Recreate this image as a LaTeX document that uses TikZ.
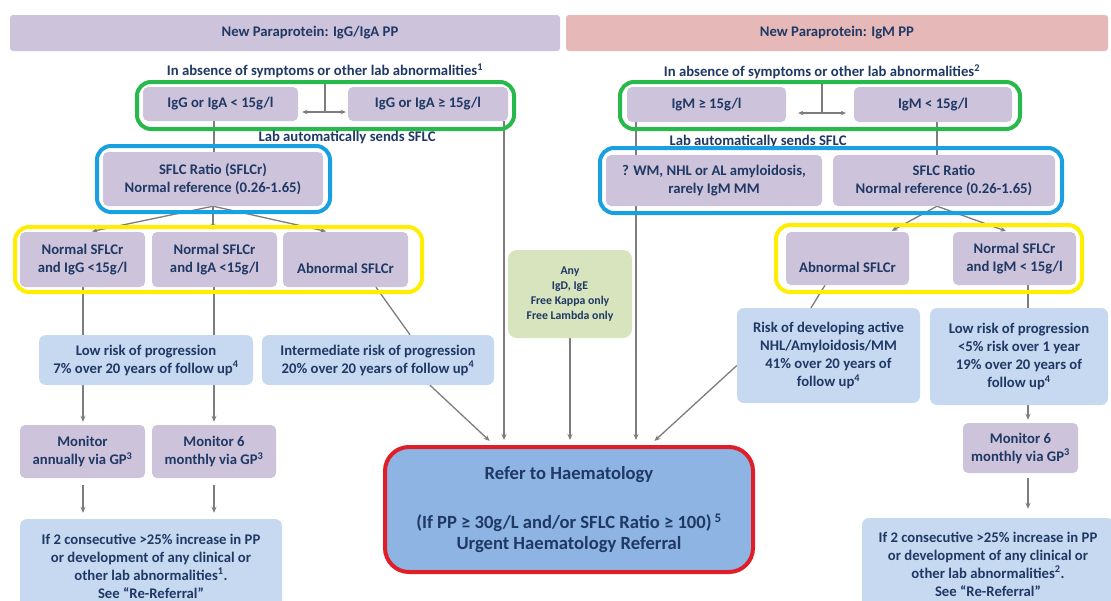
\documentclass[tikz,border=0pt]{standalone}
\usepackage{fontspec}
\setmainfont{Carlito}
\usetikzlibrary{arrows.meta,backgrounds}
\definecolor{txtc}{RGB}{31,56,100}
\definecolor{purp}{RGB}{205,195,219}
\definecolor{pinkh}{RGB}{230,185,184}
\definecolor{lblue}{RGB}{198,217,240}
\definecolor{mblue}{RGB}{141,180,226}
\definecolor{lgreen}{RGB}{215,228,189}
\definecolor{fgreen}{RGB}{40,185,75}
\definecolor{fblue}{RGB}{25,160,225}
\definecolor{fyellow}{RGB}{255,238,0}
\definecolor{fred}{RGB}{225,30,40}
\definecolor{conn}{RGB}{125,125,125}
\begin{document}
\begin{tikzpicture}[x=1pt,y=-1pt,
  txt/.style={font=\bfseries\fontsize{14.7}{18}\selectfont, text=txtc, align=center},
  sz/.style 2 args={minimum width=#1pt, minimum height=#2pt},
  hdr/.style={txt, rounded corners=3pt, inner sep=0pt},
  pbox/.style={txt, fill=purp, rounded corners=5pt, inner sep=0pt},
  bbox/.style={txt, fill=lblue, rounded corners=7pt, inner sep=0pt},
  frame/.style={draw=#1, line width=4pt, rounded corners=14pt, inner sep=0pt},
  ln/.style={draw=conn, line width=1.3pt},
  arr/.style={ln, -{Stealth[length=6pt,width=5pt]}},
  dbl/.style={ln, {Stealth[length=5pt,width=4.5pt]}-{Stealth[length=5pt,width=4.5pt]}}
]
\useasboundingbox (0,0) rectangle (1111,600);
\clip (0,0) rectangle (1111,600);

% headers
\node[hdr, fill=purp, sz={550}{36}] (hL) at (285,33) {\hspace*{50pt}New Paraprotein: IgG/IgA PP};
\node[hdr, fill=pinkh, sz={542}{36}] (hR) at (837,33) {New Paraprotein: IgM PP};
\node[txt] (absL) at (325,71) {In absence of symptoms or other lab abnormalities\textsuperscript{1}};
\node[txt] (absR) at (822,72) {In absence of symptoms or other lab abnormalities\textsuperscript{2}};

% green level
\node[frame=fgreen, sz={377}{47}] (gfL) at (325.5,105.5) {};
\node[pbox, sz={155}{34}] (igL1) at (220.5,104) {IgG or IgA < 15g/l};
\node[pbox, sz={160}{34}] (igL2) at (428,104) {IgG or IgA ≥ 15g/l};
\node[frame=fgreen, sz={400}{47}] (gfR) at (820,105.5) {};
\node[pbox, sz={159}{35}] (igM1) at (706.5,104.5) {IgM ≥ 15g/l};
\node[pbox, sz={158}{35}] (igM2) at (933,104.5) {IgM < 15g/l};
\coordinate (tL) at (325,112);
\coordinate (tR) at (822,113);
\node[txt] (labL) at (347,137) {Lab automatically sends SFLC};
\node[txt] (labR) at (758,141) {Lab automatically sends SFLC};

% blue level
\node[frame=fblue, sz={233}{66}] (bfL) at (213.5,179) {};
\node[pbox, sz={220}{54}] (sflcL) at (213,179) {SFLC Ratio (SFLCr)\\Normal reference (0.26-1.65)};
\node[frame=fblue, sz={462}{65}] (bfR) at (831,180.5) {};
\node[pbox, sz={216}{51}] (wm) at (714,180.5) {? WM, NHL or AL amyloidosis,\\rarely IgM MM};
\node[pbox, sz={222}{51}] (sflcR) at (944,180.5) {SFLC Ratio\\Normal reference (0.26-1.65)};

% yellow level
\node[frame=fyellow, sz={407}{65}] (yfL) at (218.5,259.5) {};
\node[pbox, sz={125}{55}] (n1) at (82.5,259.5) {Normal SFLCr\\and IgG <15g/l};
\node[pbox, sz={125}{55}] (n2) at (214.5,259.5) {Normal SFLCr\\and IgA <15g/l};
\node[pbox, sz={125}{55}] (ab1) at (345.5,259.5) {\vphantom{A}\\Abnormal SFLCr};
\node[frame=fyellow, sz={306}{67}] (yfR) at (929,258.5) {};
\node[pbox, sz={123}{53}] (ab2) at (847.5,258.5) {\vphantom{A}\\Abnormal SFLCr};
\node[pbox, sz={123}{53}] (n3) at (1014.5,258.5) {Normal SFLCr\\and IgM < 15g/l};

% other
\node[txt, font=\bfseries\fontsize{11.8}{15}\selectfont, fill=lgreen, rounded corners=9pt, inner sep=0pt, sz={124}{88}] (any) at (570,294) {Any\\IgD, IgE\\Free Kappa only\\Free Lambda only};
\node[bbox, sz={214}{50}] (lowL) at (146,360) {Low risk of progression\\7\% over 20 years of follow up\textsuperscript{4}};
\node[bbox, sz={232}{50}] (inter) at (378,360) {Intermediate risk of progression\\20\% over 20 years of follow up\textsuperscript{4}};
\node[bbox, sz={183}{95}] (riskR) at (828.5,355.5) {Risk of developing active\\NHL/Amyloidosis/MM\\41\% over 20 years of\\follow up\textsuperscript{4}};
\node[bbox, sz={178}{97}] (lowR) at (1019,356.5) {Low risk of progression\\<5\% risk over 1 year\\19\% over 20 years of\\follow up\textsuperscript{4}};
\node[pbox, sz={125}{53}] (monA) at (82.5,451.5) {Monitor\\annually via GP\textsuperscript{3}};
\node[pbox, sz={124}{53}] (mon6L) at (214,451.5) {Monitor 6\\monthly via GP\textsuperscript{3}};
\node[pbox, sz={115}{50}] (mon6R) at (1020.5,448) {Monitor 6\\monthly via GP\textsuperscript{3}};
\node[bbox, sz={262}{94}] (botL) at (151,566) {If 2 consecutive >25\% increase in PP\\or development of any clinical or\\other lab abnormalities\textsuperscript{1}.\\See “Re-Referral”};
\node[bbox, sz={252}{92}] (botR) at (988,564) {If 2 consecutive >25\% increase in PP\\or development of any clinical or\\other lab abnormalities\textsuperscript{2}.\\See “Re-Referral”};
\node[txt, font=\bfseries\fontsize{18.6}{20.5}\selectfont, fill=mblue, draw=fred, line width=4pt, rounded corners=24pt, inner sep=0pt, sz={368}{125}] (refer) at (569,509.5) {Refer to Haematology\\[29pt](If PP ≥ 30g/L and/or SFLC Ratio ≥ 100)\,\textsuperscript{5}\\Urgent Haematology Referral};

\begin{pgfonlayer}{background}
\fill[white] (0,0) rectangle (1111,600);
% green T connectors
\draw[ln] (gfL.north -| tL) -- (tL);
\draw[dbl, shorten <=4pt, shorten >=2pt] (igL1.east |- tL) -- (igL2.west |- tL);
\draw[ln] (gfR.north -| tR) -- (tR);
\draw[dbl, shorten <=12pt, shorten >=8pt] (igM1.east |- tR) -- (igM2.west |- tR);
% left column
\draw[ln] (igL1.south -| 214,0) -- (sflcL.north -| 214,0);
\draw[arr, shorten >=5pt] (igL2.south -| 504,0) -- (refer.north -| 504,0);
\draw[arr, shorten >=2pt] (sflcL.south) -- (n1.north -| 90,0);
\draw[arr, shorten >=2pt] (sflcL.south) -- (n2.north -| 213,0);
\draw[arr, shorten >=2pt] (sflcL.south) -- (ab1.north -| 328,0);
\draw[ln] (n1.south -| 83,0) -- (lowL.north -| 83,0);
\draw[ln] (n2.south -| 214,0) -- (lowL.north -| 214,0);
\draw[arr, shorten >=3pt] (lowL.south -| 83,0) -- (monA.north -| 83,0);
\draw[arr, shorten >=3pt] (lowL.south -| 214,0) -- (mon6L.north -| 214,0);
\draw[arr, shorten <=7pt, shorten >=6pt] (monA.south -| 83,0) -- (botL.north -| 83,0);
\draw[arr, shorten <=7pt, shorten >=6pt] (mon6L.south -| 214,0) -- (botL.north -| 214,0);
\draw[ln] (ab1.south -| 376,0) -- (inter.north -| 410,0);
\draw[arr, shorten >=6pt] (inter.south -| 430,0) -- (refer.north -| 494,0);
% middle
\draw[arr, shorten >=5pt] (any.south) -- (refer.north -| any.south);
% right column
\draw[ln] (igM1.south -| 636,0) -- (wm.north -| 636,0);
\draw[arr, shorten >=5pt] (wm.south -| 636,0) -- (refer.north -| 636,0);
\draw[ln] (igM2.south -| 937,0) -- (sflcR.north -| 937,0);
\draw[arr, shorten >=2pt] (sflcR.south -| 937,0) -- (ab2.north -| 890,0);
\draw[arr, shorten >=2pt] (sflcR.south -| 937,0) -- (n3.north -| 1008,0);
\draw[ln] (ab2.south -| 825,0) -- (riskR.north -| 811,0);
\draw[arr, shorten >=6pt] ([yshift=-10pt]riskR.west) -- (refer.north -| 650,0);
\draw[ln] (n3.south -| 1028,0) -- (lowR.north -| 1028,0);
\draw[arr, shorten >=3pt] (lowR.south -| 1028,0) -- (mon6R.north -| 1028,0);
\draw[arr, shorten <=5pt, shorten >=9pt] (mon6R.south -| 1028,0) -- (botR.north -| 1028,0);
\end{pgfonlayer}
\end{tikzpicture}
\end{document}
